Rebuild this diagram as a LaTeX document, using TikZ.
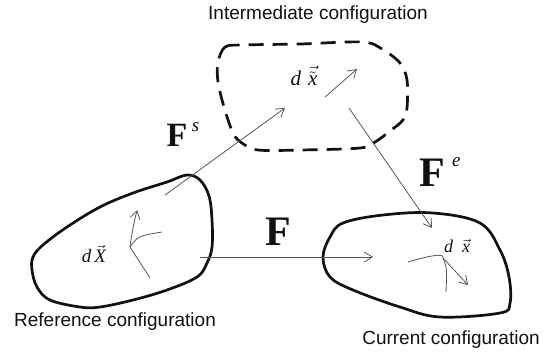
\documentclass[tikz,border=0pt]{standalone}
\usepackage{fontspec}
\setmainfont{Liberation Serif}
\newfontfamily\capfont{Liberation Sans}
\usetikzlibrary{arrows.meta}
\definecolor{inkc}{HTML}{111111}
\definecolor{arrgrey}{HTML}{555555}

\begin{document}
\begin{tikzpicture}[x=1pt, y=-1pt,
    body/.style={draw=inkc, line width=2.7pt, line join=round},
    ibody/.style={body, dash pattern=on 15pt off 9pt},
    fib/.style={draw=arrgrey, line width=0.8pt},
    map/.style={fib, -{Straight Barb[length=8pt,width=10pt]}},
    conflbl/.style={font=\capfont\fontsize{19}{21}\selectfont, text=inkc, inner sep=0pt},
    grad/.style={font=\fontsize{42}{44}\selectfont\bfseries, text=inkc, inner sep=0pt},
    sgrad/.style={grad, font=\fontsize{34}{36}\selectfont\bfseries},
    supl/.style={font=\fontsize{19}{20}\selectfont\itshape, text=inkc, inner sep=0pt, anchor=west},
    elem/.style={font=\fontsize{19}{20}\selectfont\itshape, text=inkc, inner sep=0pt}]
  \useasboundingbox (0,0) rectangle (548,354);

  % the three configurations
  \draw[body] plot[smooth cycle, tension=0.6] coordinates {(33,257) (43,245) (67,227) (100,207) (133,193) (167,182) (187,175) (200,180) (209,196) (212,220) (212,247) (207,263) (197,277) (167,290) (133,300) (100,307) (80,307) (50,300) (37,287) (32,270)};
  \draw[ibody] plot[smooth cycle, tension=0.55] coordinates {(218,62) (225,47) (240,45) (300,44) (362,42) (382,49) (400,63) (407,80) (407,108) (403,120) (390,131) (375,142) (360,148) (300,150) (258,150) (242,143) (233,133) (224,107) (218,82)};
  \draw[body] plot[smooth cycle, tension=0.6] coordinates {(323,257) (330,237) (343,223) (383,215) (433,213) (480,223) (500,250) (509,277) (510,303) (500,313) (440,317) (400,307) (353,290) (330,277)};

  \node[conflbl] (refcap) at (115,322) {Reference configuration};
  \node[conflbl] (intcap) at (318,15) {Intermediate configuration};
  \node[conflbl] (curcap) at (451,340) {Current configuration};

  % line elements
  \node[elem] (dX) at (94,254) {d\hspace{3pt}$\vec{\mbox{\itshape X}}$};
  \node[elem, font=\fontsize{21}{22}\selectfont\itshape] (dxt) at (304,76) {d\hspace{7pt}$\vec{\tilde{\mbox{\itshape x}}}$};
  \node[elem, font=\fontsize{18}{19}\selectfont\itshape] (dx) at (457,246) {d\hspace{9pt}$\vec{\mbox{\itshape x}}$};

  \coordinate (rv) at (130,247);
  \coordinate (rup) at (137,210);
  \coordinate (rright) at (162,232);
  \coordinate (rdown) at (150,278);
  \draw[map] (rv) .. controls (132,232) .. (rup);
  \draw[fib] (rv) .. controls (138,236) .. (rright);
  \draw[fib] (rv) -- (rdown);

  \coordinate (iv) at (325,97);
  \coordinate (itip) at (357,69);
  \draw[map] (iv) -- (itip);

  \coordinate (cl) at (408,262);
  \coordinate (cv) at (443,258);
  \coordinate (cdown) at (446,292);
  \coordinate (ctip) at (468,285);
  \draw[fib] (cl) .. controls (425,257) and (445,252) .. (cv) .. controls (447,268) .. (cdown);
  \draw[map] (cv) -- (ctip);

  % deformation gradients
  \coordinate (fsa) at (165,195);
  \coordinate (fsb) at (285,108);
  \coordinate (fea) at (349,108);
  \coordinate (feb) at (432,228);
  \coordinate (fa) at (200,257);
  \coordinate (fb) at (373,257);
  \draw[map] (fsa) -- (fsb);
  \draw[map] (fea) -- (feb);
  \draw[map] (fa) -- (fb);

  \node[sgrad] (Fs) at (177,135) {F};
  \node[supl] at ([xshift=4pt,yshift=-3pt]Fs.north east) {s};
  \node[grad] (Fe) at (432,173) {F};
  \node[supl] at ([xshift=7pt,yshift=-3pt]Fe.north east) {e};
  \node[grad] (F) at (278,232) {F};
\end{tikzpicture}
\end{document}
